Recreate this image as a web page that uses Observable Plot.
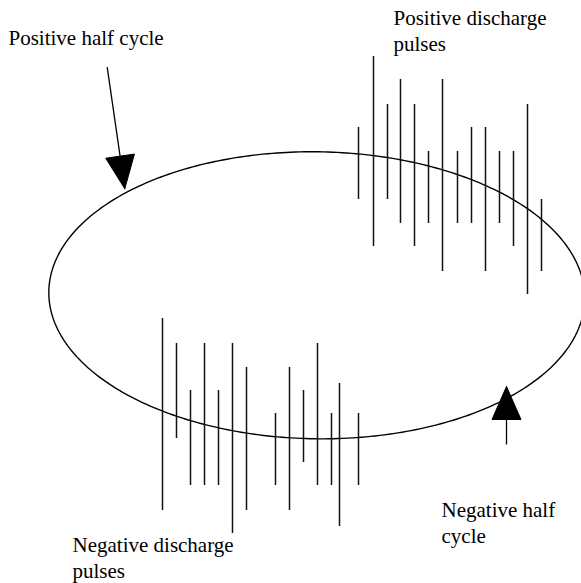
<!DOCTYPE html>
<html>
<head>
<meta charset="utf-8">
<script src="https://cdn.jsdelivr.net/npm/d3@7"></script>
<script src="https://cdn.jsdelivr.net/npm/@observablehq/plot@0.6"></script>
<style>
  html, body { margin: 0; padding: 0; background: #fff; }
  #chart svg { display: block; }
</style>
</head>
<body>
<div id="chart"></div>
<script>
// Positive discharge pulses (horizontal position, pulse top, pulse bottom)
const posX      = [358, 373, 387, 400, 414, 428, 442, 457, 471, 485, 499, 513, 527, 541];
const posTop    = [127,  56, 104,  79, 104, 151,  79, 151, 127, 127, 151, 151, 104, 199];
const posBottom = [199, 246, 199, 223, 246, 223, 271, 223, 223, 271, 223, 246, 294, 271];

// Negative discharge pulses
const negX      = [162, 176, 190, 204, 218, 232, 246, 275, 289, 303, 317, 331, 339, 358];
const negTop    = [318, 343, 390, 343, 390, 343, 367, 413, 367, 390, 343, 413, 383, 413];
const negBottom = [510, 438, 485, 485, 485, 533, 510, 485, 510, 462, 485, 485, 526, 485];

// Ellipse (voltage cycle) parameters
const ellipseCenter = [316.3, 294.8];
const ellipseRadii = [268, 143.5];
const ellipseTiltDeg = 0.8;

// Half-cycle arrows: tail -> tip
const arrowNames = ["Positive half cycle", "Negative half cycle"];
const arrowTail = [[106.7, 66.7], [506, 444]];
const arrowTip  = [[124.3, 188.3], [506, 386]];

// Text labels
const labelText = ["Positive half cycle", "Positive discharge\npulses", "Negative half\ncycle", "Negative discharge\npulses"];
const labelX = [8, 393, 441, 72];
const labelY = [27, 7, 499, 534];

// ---- build tables ----
const pulses = [
  ...posX.map((x, i) => ({x, y1: posTop[i], y2: posBottom[i], kind: "positive"})),
  ...negX.map((x, i) => ({x, y1: negTop[i], y2: negBottom[i], kind: "negative"}))
];

const th = ellipseTiltDeg * Math.PI / 180;
const ellipse = d3.range(0, 361).map(d => {
  const t = d * Math.PI / 180;
  const ex = ellipseRadii[0] * Math.cos(t), ey = ellipseRadii[1] * Math.sin(t);
  return {
    x: ellipseCenter[0] + ex * Math.cos(th) - ey * Math.sin(th),
    y: ellipseCenter[1] + ex * Math.sin(th) + ey * Math.cos(th)
  };
});

const headLength = 33, headWidth = 29;
const shafts = [], heads = [];
arrowNames.forEach((name, i) => {
  const [x0, y0] = arrowTail[i], [x1, y1] = arrowTip[i];
  const L = Math.hypot(x1 - x0, y1 - y0);
  const ux = (x1 - x0) / L, uy = (y1 - y0) / L;
  const bx = x1 - ux * headLength, by = y1 - uy * headLength;
  const px = -uy * headWidth / 2, py = ux * headWidth / 2;
  shafts.push({name, x1: x0, y1: y0, x2: bx, y2: by});
  heads.push({name, x: x1, y: y1}, {name, x: bx + px, y: by + py}, {name, x: bx - px, y: by - py}, {name, x: x1, y: y1});
});

const labels = labelText.map((text, i) => ({text, x: labelX[i], y: labelY[i]}));

const serifStack = "'Liberation Serif', 'Times New Roman', Times, 'DejaVu Serif', serif";

const chart = Plot.plot({
  width: 581,
  height: 583,
  margin: 0,
  style: {background: "white"},
  x: {domain: [0, 581], range: [0, 581], axis: null},
  y: {domain: [0, 583], range: [0, 583], axis: null},
  marks: [
    Plot.line(ellipse, {x: "x", y: "y", stroke: "black", strokeWidth: 1.4}),
    Plot.ruleX(pulses, {x: "x", y1: "y1", y2: "y2", stroke: "#111", strokeWidth: 1.5}),
    Plot.link(shafts, {x1: "x1", y1: "y1", x2: "x2", y2: "y2", stroke: "black", strokeWidth: 1.3}),
    Plot.line(heads, {x: "x", y: "y", z: "name", fill: "black", stroke: "black", strokeWidth: 1}),
    Plot.text(labels, {
      x: "x", y: "y", text: "text",
      textAnchor: "start", lineAnchor: "top",
      fontSize: 21, fontFamily: serifStack,
      lineHeight: 1.2, fill: "black"
    })
  ]
});
document.getElementById("chart").appendChild(chart);
</script>
</body>
</html>
